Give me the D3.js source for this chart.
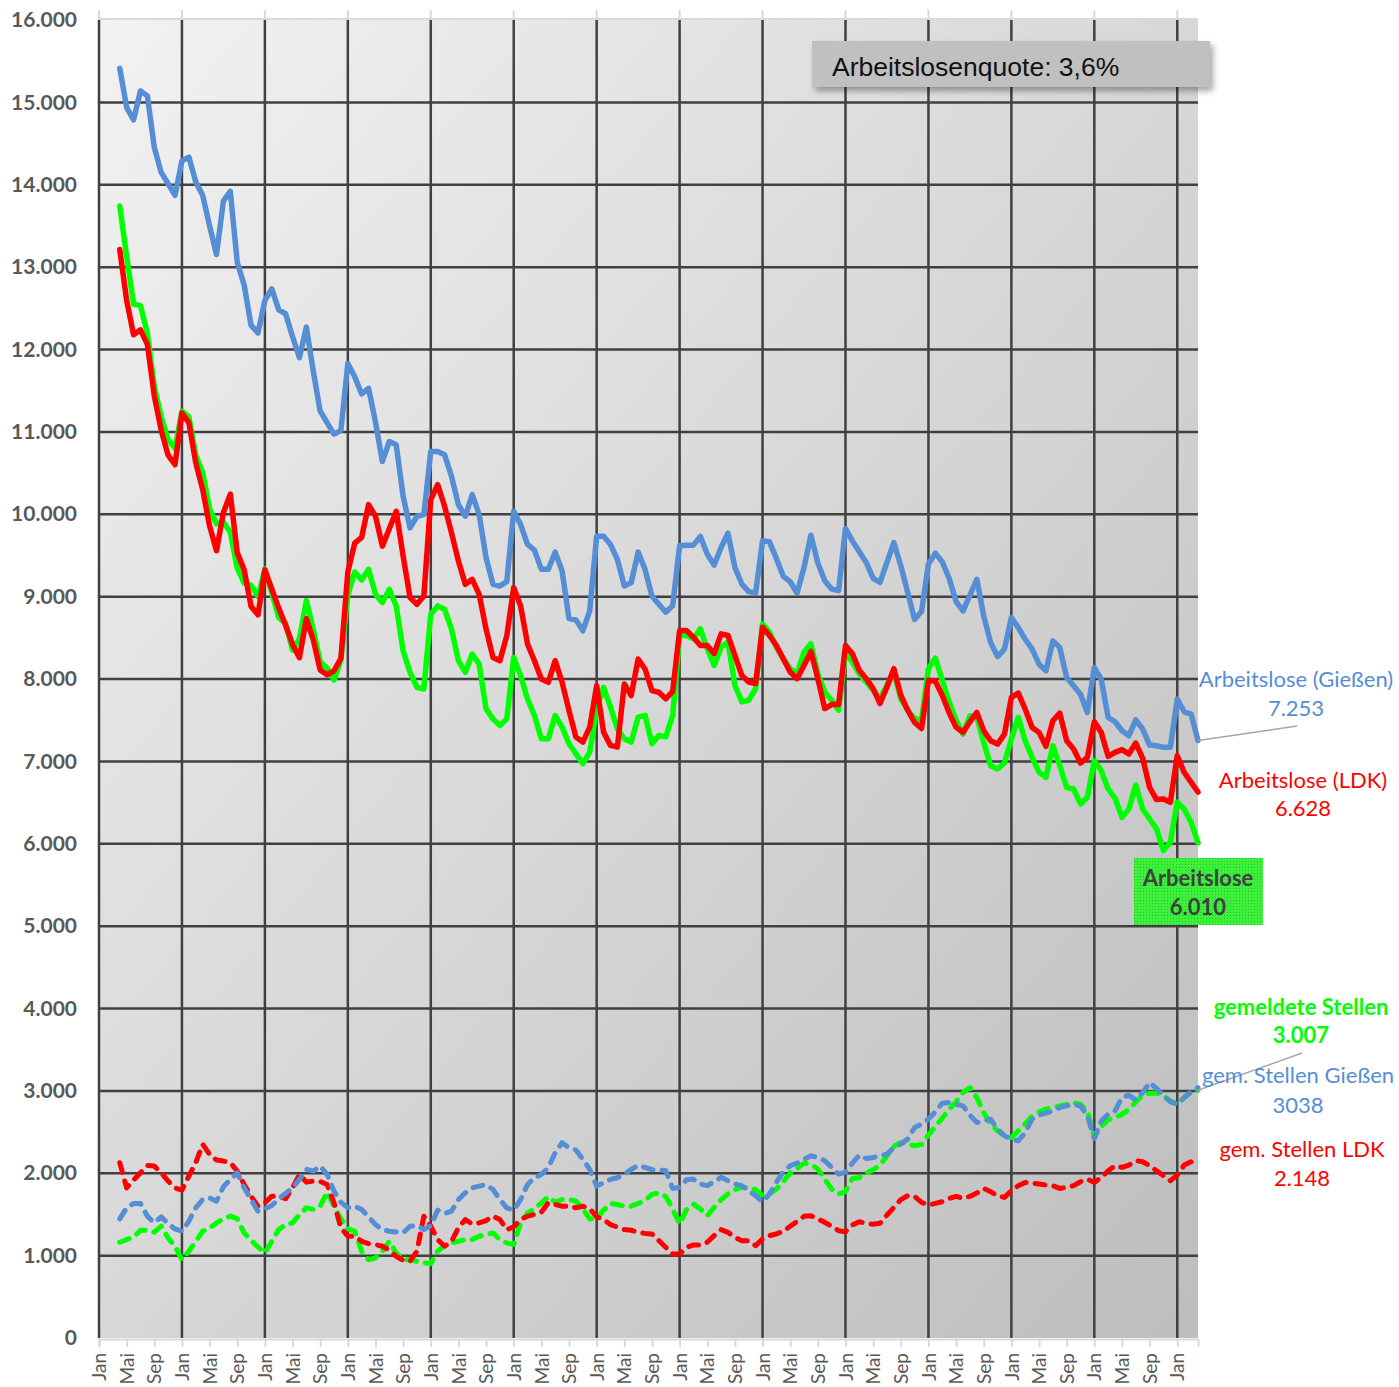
<!DOCTYPE html>
<html>
<head>
<meta charset="utf-8">
<script src="https://cdn.jsdelivr.net/npm/d3@7"></script>
<style>
  body { margin: 0; background: #fff; }
  svg { display: block; }
</style>
</head>
<body>
<script>
// month index of first value (0 = Jan of first year), 157 monthly values
const startMonth = 3
const monthNames = ['Jan', 'Feb', 'Mär', 'Apr', 'Mai', 'Jun', 'Jul', 'Aug', 'Sep', 'Okt', 'Nov', 'Dez']
const yTicks = d3.range(0, 16001, 1000)

const alGiessen = [
  15413, 14940, 14787, 15139, 15079, 14452, 14150, 14012, 13872, 14290,
  14336, 14035, 13872, 13501, 13153, 13803, 13919, 13060, 12782, 12295,
  12202, 12596, 12735, 12480, 12434, 12155, 11900, 12272, 11738, 11251,
  11112, 10972, 11019, 11831, 11668, 11460, 11529, 11120, 10641, 10883,
  10843, 10218, 9835, 9976, 9996, 10762, 10762, 10722, 10460, 10117,
  9976, 10238, 9996, 9472, 9149, 9129, 9182, 10036, 9875, 9633,
  9565, 9331, 9331, 9540, 9311, 8734, 8718, 8585, 8827, 9734,
  9734, 9633, 9452, 9129, 9170, 9540, 9331, 9008, 8907, 8810,
  8891, 9617, 9625, 9625, 9730, 9516, 9383, 9597, 9770, 9355,
  9153, 9061, 9044, 9677, 9665, 9464, 9246, 9181, 9044, 9355,
  9746, 9407, 9194, 9093, 9073, 9827, 9677, 9544, 9415, 9222,
  9173, 9415, 9657, 9375, 9052, 8722, 8819, 9395, 9528, 9423,
  9220, 8940, 8826, 9016, 9210, 8766, 8442, 8273, 8362, 8745,
  8624, 8483, 8362, 8180, 8099, 8463, 8382, 8018, 7917, 7816,
  7594, 8139, 7998, 7533, 7481, 7372, 7311, 7505, 7392, 7198,
  7190, 7170, 7170, 7756, 7602, 7574, 7253
]

const alLDK = [
  13214, 12596, 12179, 12239, 12063, 11436, 11019, 10717, 10601, 11228,
  11112, 10624, 10300, 9859, 9557, 10021, 10244, 9534, 9325, 8884,
  8778, 9325, 9093, 8861, 8653, 8420, 8258, 8731, 8474, 8110,
  8050, 8100, 8250, 9300, 9650, 9720, 10117, 9976, 9613, 9823,
  10036, 9492, 8988, 8907, 9008, 10178, 10359, 10097, 9774, 9432,
  9149, 9210, 9028, 8605, 8262, 8222, 8524, 9109, 8887, 8424,
  8222, 8000, 7960, 8222, 7960, 7617, 7295, 7234, 7416, 7920,
  7355, 7194, 7174, 7940, 7799, 8242, 8121, 7859, 7839, 7760,
  7851, 8589, 8589, 8508, 8407, 8407, 8307, 8548, 8528, 8286,
  8044, 7964, 7944, 8629, 8528, 8407, 8246, 8085, 8004, 8165,
  8335, 8004, 7641, 7690, 7690, 8407, 8307, 8105, 8004, 7883,
  7702, 7903, 8125, 7803, 7621, 7472, 7399, 7984, 7972, 7803,
  7590, 7415, 7352, 7481, 7594, 7372, 7251, 7210, 7331, 7776,
  7828, 7634, 7412, 7352, 7182, 7493, 7586, 7251, 7150, 6980,
  7049, 7481, 7352, 7061, 7109, 7142, 7089, 7222, 7037, 6685,
  6536, 6544, 6503, 7069, 6867, 6746, 6628
]

const al = [
  13743, 13130, 12550, 12536, 12193, 11552, 11181, 10903, 10800, 11251,
  11181, 10717, 10508, 10068, 9882, 9905, 9780, 9348, 9163, 9140,
  9000, 9335, 9047, 8745, 8676, 8350, 8490, 8954, 8600, 8207,
  8134, 7988, 8231, 9020, 9299, 9202, 9331, 9028, 8928, 9089,
  8887, 8343, 8081, 7900, 7879, 8786, 8887, 8847, 8605, 8222,
  8081, 8303, 8182, 7637, 7516, 7436, 7516, 8262, 8041, 7758,
  7557, 7274, 7274, 7557, 7416, 7214, 7093, 6972, 7113, 7637,
  7899, 7658, 7395, 7274, 7234, 7537, 7557, 7214, 7315, 7297,
  7561, 8528, 8528, 8488, 8609, 8367, 8165, 8387, 8448, 7924,
  7722, 7742, 7883, 8669, 8569, 8387, 8246, 8125, 8064, 8327,
  8428, 8064, 7843, 7742, 7621, 8327, 8206, 8064, 7964, 7863,
  7762, 7924, 8085, 7762, 7621, 7520, 7500, 8125, 8254, 7984,
  7720, 7500, 7332, 7554, 7534, 7230, 6948, 6907, 6980, 7271,
  7534, 7251, 7049, 6867, 6806, 7190, 6948, 6685, 6665, 6483,
  6564, 7008, 6887, 6665, 6552, 6321, 6422, 6713, 6422, 6301,
  6180, 5917, 6018, 6503, 6422, 6261, 6010
]

const stellenLDK = [
  2128, 1823, 1917, 2006, 2095, 2087, 2006, 1905, 1823, 1795,
  1966, 2128, 2351, 2229, 2160, 2148, 2128, 2026, 1864, 1722,
  1600, 1641, 1722, 1722, 1690, 1823, 1986, 1892, 1905, 1901,
  1864, 1641, 1337, 1235, 1235, 1174, 1146, 1134, 1114, 1065,
  992, 943, 931, 1053, 1479, 1357, 1195, 1114, 1174, 1337,
  1438, 1385, 1397, 1426, 1479, 1438, 1316, 1349, 1438, 1479,
  1499, 1527, 1641, 1621, 1600, 1600, 1580, 1600, 1568, 1470,
  1438, 1377, 1345, 1316, 1308, 1284, 1270, 1263, 1182, 1101,
  1020, 1020, 1101, 1130, 1130, 1162, 1243, 1315, 1283, 1222,
  1182, 1182, 1121, 1202, 1243, 1263, 1295, 1356, 1416, 1477,
  1485, 1445, 1404, 1356, 1303, 1291, 1372, 1412, 1392, 1380,
  1392, 1493, 1586, 1679, 1727, 1719, 1647, 1614, 1634, 1655,
  1695, 1719, 1695, 1719, 1760, 1816, 1776, 1727, 1707, 1788,
  1849, 1889, 1881, 1869, 1857, 1849, 1816, 1828, 1849, 1897,
  1929, 1889, 1950, 2030, 2091, 2071, 2099, 2152, 2140, 2091,
  2030, 1970, 1909, 1978, 2099, 2140, 2148
]

const stellenGiessen = [
  1446, 1580, 1633, 1633, 1479, 1398, 1470, 1389, 1324, 1296,
  1418, 1580, 1681, 1702, 1661, 1836, 1925, 2006, 1823, 1681,
  1539, 1568, 1608, 1690, 1755, 1823, 1925, 2047, 2026, 2087,
  1986, 1783, 1649, 1580, 1600, 1560, 1470, 1377, 1316, 1296,
  1288, 1276, 1357, 1365, 1316, 1365, 1552, 1511, 1539, 1681,
  1763, 1823, 1844, 1864, 1803, 1681, 1580, 1552, 1681, 1864,
  1945, 1986, 2067, 2249, 2371, 2310, 2282, 2168, 2047, 1844,
  1884, 1925, 1945, 1986, 2047, 2095, 2070, 2043, 2043, 2030,
  1816, 1828, 1921, 1929, 1869, 1849, 1897, 1950, 1909, 1869,
  1849, 1788, 1727, 1655, 1748, 1889, 2018, 2091, 2123, 2172,
  2212, 2192, 2152, 2071, 1990, 2010, 2123, 2220, 2180, 2192,
  2212, 2232, 2313, 2354, 2414, 2556, 2596, 2657, 2745, 2851,
  2859, 2838, 2818, 2705, 2616, 2636, 2657, 2535, 2455, 2414,
  2394, 2495, 2657, 2705, 2729, 2758, 2798, 2818, 2838, 2818,
  2697, 2422, 2636, 2717, 2758, 2919, 2947, 2891, 2980, 3101,
  3028, 2947, 2867, 2838, 2919, 2988, 3038
]

const stellen = [
  1162, 1195, 1227, 1308, 1308, 1284, 1357, 1215, 1113, 951,
  1053, 1174, 1296, 1337, 1397, 1446, 1479, 1446, 1276, 1187,
  1105, 1032, 1174, 1316, 1377, 1398, 1499, 1580, 1560, 1600,
  1771, 1600, 1446, 1324, 1296, 1053, 951, 971, 1053, 1174,
  1032, 951, 951, 931, 911, 903, 1053, 1122, 1154, 1174,
  1195, 1195, 1235, 1255, 1276, 1195, 1154, 1134, 1398, 1519,
  1568, 1641, 1714, 1649, 1681, 1681, 1661, 1568, 1446, 1446,
  1552, 1633, 1621, 1600, 1600, 1633, 1665, 1744, 1760, 1719,
  1566, 1384, 1558, 1626, 1566, 1485, 1586, 1679, 1748, 1800,
  1828, 1828, 1800, 1727, 1748, 1808, 1897, 2002, 2059, 2123,
  2111, 2051, 1929, 1808, 1748, 1776, 1937, 1946, 2002, 2043,
  2099, 2212, 2325, 2374, 2354, 2333, 2350, 2463, 2568, 2669,
  2778, 2867, 2980, 3040, 2919, 2737, 2596, 2515, 2455, 2434,
  2515, 2596, 2697, 2745, 2778, 2798, 2818, 2838, 2859, 2838,
  2758, 2434, 2568, 2649, 2673, 2717, 2770, 2867, 2947, 2972,
  2972, 2939, 2879, 2838, 2919, 2980, 3007
]

const blue = '#558ed5'
const red = '#ff0000'
const green = '#00ff00'

const svg = d3.select('body').append('svg')
  .attr('width', 1399)
  .attr('height', 1387)

const plotLeft = 99
const plotRight = 1198
const plotTop = 20
const plotBottom = 1338

const x = d3.scaleLinear().domain([0, 159]).range([plotLeft, plotRight])
const y = d3.scaleLinear().domain([0, 16000]).range([plotBottom, plotTop])

const de = d3.formatLocale({decimal: ',', thousands: '.', grouping: [3], currency: ['', '€']})
const fmt = de.format(',')

const defs = svg.append('defs')
const grad = defs.append('linearGradient')
  .attr('id', 'bg')
  .attr('x1', '0%').attr('y1', '0%')
  .attr('x2', '100%').attr('y2', '100%')
grad.append('stop').attr('offset', '0%').attr('stop-color', '#f2f2f2')
grad.append('stop').attr('offset', '100%').attr('stop-color', '#bdbdbd')

const shadow = defs.append('filter').attr('id', 'shadow')
  .attr('x', '-10%').attr('y', '-30%').attr('width', '130%').attr('height', '180%')
shadow.append('feDropShadow')
  .attr('dx', 3).attr('dy', 4).attr('stdDeviation', 3)
  .attr('flood-color', '#000').attr('flood-opacity', 0.35)

const pat = defs.append('pattern').attr('id', 'greenpat')
  .attr('width', 3).attr('height', 3).attr('patternUnits', 'userSpaceOnUse')
pat.append('rect').attr('width', 3).attr('height', 3).attr('fill', '#3cf03c')
pat.append('rect').attr('width', 1).attr('height', 1).attr('fill', '#22c822')

// plot background
svg.append('rect')
  .attr('x', plotLeft).attr('y', plotTop)
  .attr('width', plotRight - plotLeft).attr('height', plotBottom - plotTop)
  .attr('fill', 'url(#bg)')

// top light line with yearly ticks
const topAxis = svg.append('g')
topAxis.append('line')
  .attr('x1', plotLeft).attr('x2', plotRight).attr('y1', plotTop - 1).attr('y2', plotTop - 1)
  .attr('stroke', '#d9d9d9').attr('stroke-width', 2)
topAxis.selectAll('line.t')
  .data(d3.range(0, 157, 12))
  .enter()
  .append('line')
  .attr('class', 't')
  .attr('x1', (d) => x(d)).attr('x2', (d) => x(d))
  .attr('y1', plotTop - 10).attr('y2', plotTop)
  .attr('stroke', '#d9d9d9').attr('stroke-width', 2)

// bottom axis: light line, ticks every 4 months, rotated labels
const xAxis = svg.append('g')
  .attr('transform', `translate(0,${plotBottom + 1})`)
  .call(d3.axisBottom(x)
    .tickValues(d3.range(0, 157, 4))
    .tickSize(8)
    .tickPadding(0)
    .tickFormat((d) => monthNames[d % 12]))

xAxis.select('.domain').attr('stroke', '#d9d9d9').attr('stroke-width', 2)
xAxis.selectAll('.tick line').attr('stroke', '#d9d9d9').attr('stroke-width', 2)
xAxis.selectAll('.tick text')
  .attr('transform', 'rotate(-90)')
  .attr('x', -14)
  .attr('y', 0)
  .attr('dy', '0.35em')
  .attr('text-anchor', 'end')
  .attr('fill', '#595959')
  .style('font-family', 'Lato, sans-serif')
  .style('font-size', '19px')

// grid
const grid = svg.append('g')
grid.selectAll('line.h')
  .data(yTicks.filter((d) => d > 0 && d < 16000))
  .enter()
  .append('line')
  .attr('class', 'h')
  .attr('x1', plotLeft).attr('x2', plotRight)
  .attr('y1', (d) => y(d)).attr('y2', (d) => y(d))
  .attr('stroke', '#404040').attr('stroke-width', 2.5)

grid.selectAll('line.v')
  .data(d3.range(0, 157, 12))
  .enter()
  .append('line')
  .attr('class', 'v')
  .attr('x1', (d) => x(d)).attr('x2', (d) => x(d))
  .attr('y1', plotTop).attr('y2', plotBottom)
  .attr('stroke', '#404040').attr('stroke-width', 2.5)

// y labels
const yAxis = svg.append('g')
  .attr('transform', `translate(${plotLeft},0)`)
  .call(d3.axisLeft(y).tickValues(yTicks).tickSize(0).tickPadding(22).tickFormat(fmt))
yAxis.select('.domain').remove()
yAxis.selectAll('text')
  .attr('fill', '#595959')
  .style('font-family', 'Lato, sans-serif')
  .style('font-weight', '700')
  .style('font-size', '21px')

// series
const months = d3.range(startMonth, startMonth + al.length)

const line = d3.line()
  .x((d, i) => x(months[i]))
  .y((d) => y(d))

const series = [
  {data: al, color: green, dash: null},
  {data: alLDK, color: red, dash: null},
  {data: alGiessen, color: blue, dash: null},
  {data: stellen, color: green, dash: '10,9'},
  {data: stellenLDK, color: red, dash: '10,9'},
  {data: stellenGiessen, color: blue, dash: '10,9'}
]

svg.append('g')
  .selectAll('path')
  .data(series)
  .enter()
  .append('path')
  .attr('d', (d) => line(d.data))
  .attr('fill', 'none')
  .attr('stroke', (d) => d.color)
  .attr('stroke-width', (d) => d.dash ? 5 : 5.5)
  .attr('stroke-dasharray', (d) => d.dash)
  .attr('stroke-linecap', 'round')
  .attr('stroke-linejoin', 'round')

// annotation box
svg.append('rect')
  .attr('x', 812).attr('y', 41)
  .attr('width', 398).attr('height', 46)
  .attr('fill', '#c0c0c0')
  .attr('filter', 'url(#shadow)')
svg.append('text')
  .attr('x', 832).attr('y', 76)
  .attr('fill', '#111')
  .style('font-family', '"Liberation Sans", Arial, sans-serif')
  .style('font-size', '26.5px')
  .text('Arbeitslosenquote: 3,6%')

// leader lines
const lastMonth = months[months.length - 1]
svg.append('line')
  .attr('x1', x(lastMonth)).attr('y1', y(alGiessen[alGiessen.length - 1]))
  .attr('x2', 1297).attr('y2', 726)
  .attr('stroke', '#a6a6a6').attr('stroke-width', 1.5)
svg.append('line')
  .attr('x1', x(lastMonth)).attr('y1', y(stellen[stellen.length - 1]))
  .attr('x2', 1302).attr('y2', 1053)
  .attr('stroke', '#a6a6a6').attr('stroke-width', 1.5)

// green label box
svg.append('rect')
  .attr('x', 1134).attr('y', 858)
  .attr('width', 129).attr('height', 67)
  .attr('fill', 'url(#greenpat)')

const labels = [
  {cx: 1296, cy: 679, text: 'Arbeitslose (Gießen)', color: blue, bold: false},
  {cx: 1296, cy: 708, text: '7.253', color: blue, bold: false},
  {cx: 1303, cy: 780, text: 'Arbeitslose (LDK)', color: red, bold: false},
  {cx: 1303, cy: 808, text: '6.628', color: red, bold: false},
  {cx: 1198, cy: 878, text: 'Arbeitslose', color: '#404040', bold: true},
  {cx: 1198, cy: 907, text: '6.010', color: '#404040', bold: true},
  {cx: 1301, cy: 1007, text: 'gemeldete Stellen', color: green, bold: true},
  {cx: 1301, cy: 1035, text: '3.007', color: green, bold: true},
  {cx: 1298, cy: 1075, text: 'gem. Stellen Gießen', color: blue, bold: false},
  {cx: 1298, cy: 1105, text: '3038', color: blue, bold: false},
  {cx: 1302, cy: 1149, text: 'gem. Stellen LDK', color: red, bold: false},
  {cx: 1302, cy: 1178, text: '2.148', color: red, bold: false}
]

svg.append('g')
  .selectAll('text')
  .data(labels)
  .enter()
  .append('text')
  .attr('x', (d) => d.cx)
  .attr('y', (d) => d.cy)
  .attr('dy', '0.35em')
  .attr('text-anchor', 'middle')
  .attr('fill', (d) => d.color)
  .style('font-family', 'Lato, sans-serif')
  .style('font-size', '22px')
  .style('font-weight', (d) => d.bold ? '700' : '400')
  .text((d) => d.text)
</script>
</body>
</html>
